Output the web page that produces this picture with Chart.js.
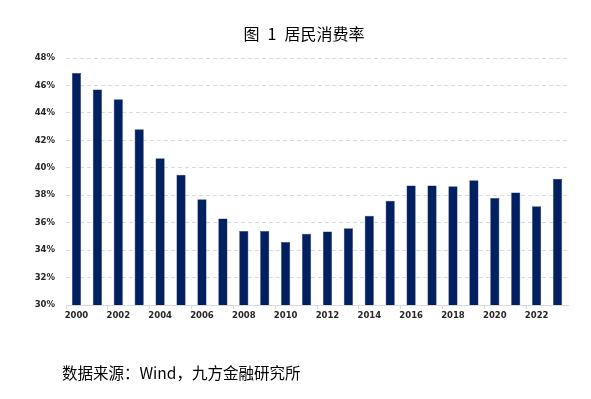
<!DOCTYPE html>
<html>
<head>
<meta charset="utf-8">
<script src="https://cdn.jsdelivr.net/npm/chart.js@4/dist/chart.umd.min.js"></script>
<style>
    body { margin: 0; background: #fff; }
    #wrap { position: relative; width: 591px; height: 399px; }
    #title { position: absolute; left: 0; width: 608px; top: 21px; text-align: center;
        font: 16px "Noto Sans CJK SC", sans-serif; color: #000; }
    #source { position: absolute; left: 62px; top: 361px;
        font: 15.5px "Noto Sans CJK SC", sans-serif; color: #000; }
</style>
</head>
<body>
<div id="wrap">
    <canvas id="rateChart" width="591" height="399"></canvas>
    <div id="title">图&ensp;1&ensp;居民消费率</div>
    <div id="source">数据来源：Wind，九方金融研究所</div>
</div>
<script>
const years = ['2000', '2001', '2002', '2003', '2004', '2005', '2006', '2007', '2008', '2009', '2010', '2011',
    '2012', '2013', '2014', '2015', '2016', '2017', '2018', '2019', '2020', '2021', '2022', '2023'];
// 居民消费率 (%)
const consumptionRate = [46.9, 45.7, 45.0, 42.8, 40.7, 39.5, 37.7, 36.3, 35.4, 35.4, 34.6, 35.2,
    35.35, 35.6, 36.5, 37.6, 38.7, 38.7, 38.65, 39.1, 37.8, 38.2, 37.2, 39.2];
const yMin = 30;
const yMax = 48;
const yStep = 2;

const ctx = document.getElementById('rateChart').getContext('2d');

new Chart(ctx, {
    type: 'bar',
    data: {
        labels: years,
        datasets: [{
            label: '居民消费率',
            data: consumptionRate,
            backgroundColor: '#002060',
            borderColor: '#1f3a78',
            borderWidth: 0.5,
            barPercentage: 0.44,
            categoryPercentage: 1
        }]
    },
    options: {
        responsive: false,
        animation: false,
        layout: {
            padding: { left: 10, right: 23, top: 58, bottom: 64 }
        },
        scales: {
            x: {
                grid: {
                    display: true,
                    drawOnChartArea: false,
                    offset: true,
                    tickLength: 4,
                    color: (c) => c.index % 2 === 0 ? '#d9d9d9' : 'rgba(0,0,0,0)'
                },
                border: { display: true, color: '#d9d9d9' },
                ticks: {
                    autoSkip: false,
                    maxRotation: 0,
                    padding: 2,
                    color: '#262626',
                    font: { family: 'DejaVu Sans', size: 8.5, weight: 'bold' },
                    callback: function(value, index) {
                        return index % 2 === 0 ? this.getLabelForValue(value) : '';
                    }
                },
                afterFit: (scale) => { scale.height = 30; }
            },
            y: {
                min: yMin,
                max: yMax,
                grid: {
                    color: '#d9d9d9',
                    drawTicks: false
                },
                border: { display: false, dash: [4, 3] },
                ticks: {
                    stepSize: yStep,
                    padding: 11,
                    color: '#262626',
                    font: { family: 'DejaVu Sans', size: 8.5, weight: 'bold' },
                    callback: (value) => value + '%'
                },
                afterFit: (scale) => { scale.width = 56; }
            }
        },
        plugins: {
            legend: { display: false },
            tooltip: { enabled: false }
        }
    }
});
</script>
</body>
</html>
